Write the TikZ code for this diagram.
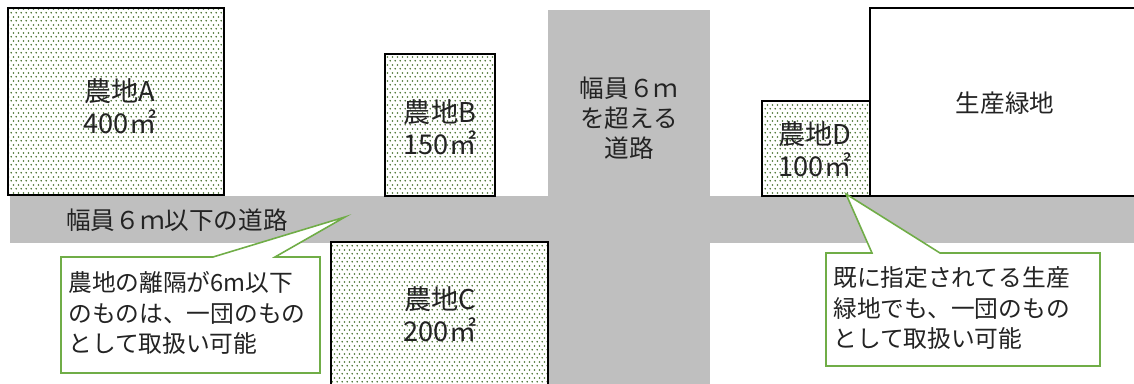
\documentclass[tikz,border=0pt]{standalone}
\usepackage{fontspec}
\setmainfont{Noto Sans CJK JP}
\usetikzlibrary{patterns}

\definecolor{roadgray}{RGB}{191,191,191}
\definecolor{dotgreen}{RGB}{70,112,45}
\definecolor{notegreen}{RGB}{112,173,71}
\definecolor{inkgray}{RGB}{35,35,35}

% small staggered dots for the farm plots
\pgfdeclarepatternformonly{farmdots}{\pgfpointorigin}{\pgfqpoint{3pt}{4.4pt}}{\pgfqpoint{3pt}{4.4pt}}{
  \pgfpathcircle{\pgfqpoint{0.75pt}{0.75pt}}{0.55pt}
  \pgfpathcircle{\pgfqpoint{2.25pt}{2.95pt}}{0.55pt}
  \pgfusepath{fill}
}

\tikzset{
  road/.style={fill=roadgray},
  farm/.style={draw=black, line width=1.3pt, pattern=farmdots, pattern color=dotgreen},
  plain/.style={draw=black, line width=1.3pt},
  plottext/.style={align=center, inner sep=0pt, text=inkgray, font=\fontsize{14}{18.5}\selectfont},
  farmtext/.style={plottext, font=\fontsize{15.5}{18.5}\selectfont},
  notebox/.style={draw=notegreen, line width=0.9pt, fill=white, line join=miter},
  notetext/.style={anchor=west, align=left, inner sep=0pt, text=inkgray, font=\fontsize{13.5}{17.5}\selectfont}
}

\begin{document}
\begin{tikzpicture}[x=0.02cm, y=-0.02cm]
    \useasboundingbox (0,0) rectangle (1134,383);

    % Roads
    \fill[road] (10,196) rectangle (1145,243);
    \fill[road] (548,10) rectangle (710,395);
    \node (roadNarrow) [plottext] at (177,220) {幅員６ｍ以下の道路};
    \node (roadWide) [plottext, font=\fontsize{14}{17}\selectfont] at (629,118) {幅員６ｍ\\を超える\\道路};

    % Farms
    \draw[farm] (8,8) rectangle (224,195);
    \draw[farm] (385,54) rectangle (495,196);
    \draw[farm] (331,242) rectangle (548,395);
    \draw[farm] (762,101) rectangle (870,196);
    \node (farmA) [farmtext] at (120,106) {農地A\\400㎡};
    \node (farmB) [farmtext] at (440,127) {農地B\\150㎡};
    \node (farmC) [farmtext] at (440,314) {農地C\\200㎡};
    \node (farmD) [farmtext] at (815,149) {農地D\\100㎡};

    % Green space
    \draw[plain] (870,8) rectangle (1150,196);
    \node (green) [plottext] at (1005,103) {生産緑地};

    % Callouts
    \coordinate (tipC) at (345,217);
    \coordinate (tipD) at (846,194);
    \draw[notebox] (61,257) -- (213,257) -- (tipC) -- (275,257) -- (320,257)
        -- (320,373) -- (61,373) -- cycle;
    \node (noteC) [notetext] at (68,313) {農地の離隔が6m以下\\のものは、一団のもの\\として取扱い可能};
    \draw[notebox] (826,253) -- (872,253) -- (tipD) -- (940,253) -- (1100,253)
        -- (1100,366) -- (826,366) -- cycle;
    \node (noteD) [notetext] at (833,308) {既に指定されてる生産\\緑地でも、一団のもの\\として取扱い可能};
\end{tikzpicture}
\end{document}
